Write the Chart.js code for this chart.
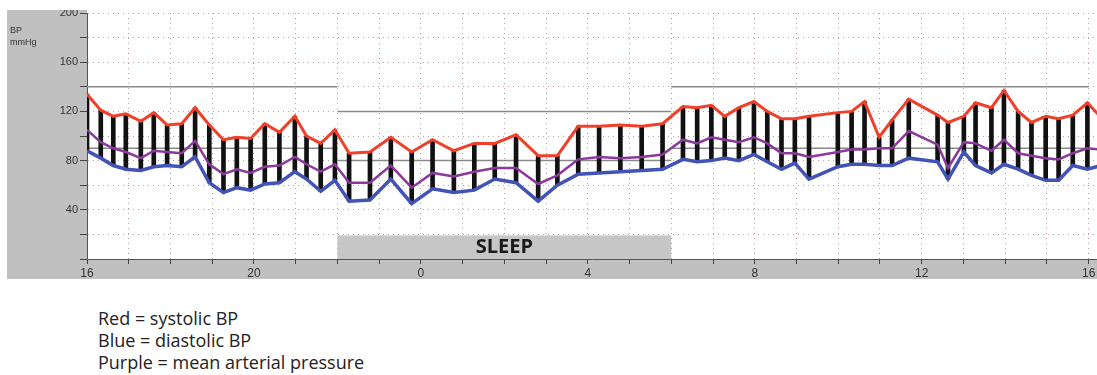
<!DOCTYPE html>
<html lang="en">
  <head>
    <title>24h ambulatory BP</title>
    <style>
      body { margin: 0; background: #fff; }
      .chart-box { position: relative; width: 1097px; height: 280px; }
      .caption {
        margin-top: 27px;
        padding-left: 98px;
        font-family: "Open Sans", sans-serif;
        font-size: 18px;
        line-height: 22px;
        color: #222;
      }
    </style>
  </head>
  <body>
    <div class="chart-box"><canvas id="bpCanvas"></canvas></div>
    <div class="caption">
      <div>Red = systolic BP</div>
      <div>Blue = diastolic BP</div>
      <div>Purple = mean arterial pressure</div>
    </div>
    <script src="https://cdn.jsdelivr.net/npm/chart.js"></script>
    <script>
      // reading times, hours from midnight of day 1 (16 = 4pm, 40 = 4pm next day)
      let times = [16.00, 16.33, 16.63, 16.93, 17.29, 17.60, 17.92, 18.27, 18.59, 18.93,
                   19.27, 19.59, 19.92, 20.26, 20.61, 20.98, 21.26, 21.60, 21.94, 22.28,
                   22.78, 23.28, 23.78, 24.28, 24.79, 25.28, 25.77, 26.28, 26.81, 27.27,
                   27.77, 28.27, 28.78, 29.29, 29.79, 30.28, 30.62, 30.96, 31.28, 31.62,
                   31.98, 32.30, 32.64, 32.96, 33.30, 33.99, 34.32, 34.63, 34.98, 35.29,
                   35.69, 36.38, 36.63, 37.01, 37.29, 37.67, 37.97, 38.31, 38.63, 38.97,
                   39.28, 39.62, 39.97, 40.30];
      let systolic = [134, 121, 116, 118, 112, 119, 109, 110, 123, 109,
                      97, 99, 98, 110, 103, 116, 100, 94, 105, 86,
                      87, 99, 87, 97, 88, 94, 94, 101, 84, 84,
                      108, 108, 109, 108, 110, 124, 123, 125, 116, 123,
                      128, 120, 114, 114, 116, 119, 120, 128, 99, 113,
                      130, 117, 111, 116, 127, 123, 137, 120, 111, 116,
                      114, 117, 127, 115];
      let diastolic = [88, 82, 76, 73, 72, 75, 76, 75, 83, 62,
                       54, 58, 56, 61, 62, 71, 65, 55, 64, 47,
                       48, 65, 45, 57, 54, 56, 65, 62, 47, 60,
                       69, 70, 71, 72, 73, 81, 79, 80, 82, 80,
                       85, 79, 73, 78, 65, 75, 77, 77, 76, 76,
                       82, 79, 65, 87, 76, 70, 77, 73, 68, 64,
                       64, 76, 73, 76];
      let meanArterial = [105, 95, 90, 87, 82, 88, 87, 86, 96, 77,
                          69, 73, 70, 75, 76, 83, 77, 71, 77, 62,
                          62, 76, 58, 70, 67, 71, 74, 74, 61, 68,
                          81, 83, 82, 83, 85, 97, 94, 99, 97, 95,
                          99, 94, 86, 86, 83, 87, 89, 89, 90, 90,
                          104, 93, 74, 95, 94, 88, 97, 86, 84, 82,
                          81, 86, 90, 89];

      // day / night limits and sleep period
      let limitTimes = [16, 22, 30, 40];
      let sysLimits = [140, 120, 140];
      let diaLimits = [90, 80, 90];
      let sleepStart = 22;
      let sleepEnd = 30;
      let sleepTop = 20;

      let points = function (vals) {
        return times.map((t, i) => ({ x: t, y: vals[i] }));
      };
      let limitSegments = function (vals) {
        let out = [];
        for (let i = 0; i < vals.length; i++) {
          if (i > 0) out.push({ x: limitTimes[i], y: null });
          out.push({ x: limitTimes[i], y: vals[i] });
          out.push({ x: limitTimes[i + 1], y: vals[i] });
        }
        return out;
      };

      let panelPlugin = {
        id: "panels",
        beforeDraw(chart) {
          let ctx = chart.ctx;
          let a = chart.chartArea;
          ctx.save();
          ctx.fillStyle = "#c0c0c0";
          ctx.fillRect(7, 10, a.left - 7, 279 - 10);
          ctx.fillRect(7, a.bottom, chart.width - 7, 279 - a.bottom);
          ctx.restore();
        },
        beforeDatasetsDraw(chart) {
          let ctx = chart.ctx;
          let xs = chart.scales.x;
          let ys = chart.scales.y;
          let x1 = xs.getPixelForValue(sleepStart);
          let x2 = xs.getPixelForValue(sleepEnd);
          let y1 = ys.getPixelForValue(sleepTop);
          let y2 = ys.getPixelForValue(0);
          ctx.save();
          ctx.fillStyle = "#c6c6c6";
          ctx.fillRect(x1, y1 + 1, x2 - x1, y2 - y1 - 1);
          ctx.fillStyle = "#1a1a1a";
          ctx.font = "bold 20px 'Open Sans'";
          ctx.textAlign = "center";
          ctx.textBaseline = "middle";
          ctx.fillText("SLEEP", (x1 + x2) / 2, (y1 + y2) / 2 + 1);
          ctx.restore();
        },
        afterDraw(chart) {
          let ctx = chart.ctx;
          ctx.save();
          ctx.fillStyle = "#fff";
          ctx.fillRect(0, 0, chart.chartArea.left, 10);
          ctx.fillStyle = "#333";
          ctx.font = "9px 'Liberation Sans'";
          ctx.fillText("BP", 10, 33);
          ctx.fillText("mmHg", 10, 45);
          ctx.restore();
        },
      };

      new Chart(document.getElementById("bpCanvas"), {
        type: "line",
        data: {
          datasets: [
            {
              type: "bar",
              data: times.map((t, i) => ({ x: t, y: [diastolic[i], systolic[i]] })),
              backgroundColor: "#111",
              borderWidth: 0,
              barThickness: 4,
              order: 5,
            },
            {
              data: points(systolic),
              borderColor: "#f0402a",
              borderWidth: 3,
              pointRadius: 0,
              order: 1,
            },
            {
              data: points(meanArterial),
              borderColor: "#8b3a9c",
              borderWidth: 2.5,
              pointRadius: 0,
              order: 2,
            },
            {
              data: points(diastolic),
              borderColor: "#4253b8",
              borderWidth: 3.5,
              pointRadius: 0,
              order: 3,
            },
            {
              data: limitSegments(sysLimits),
              borderColor: "#8a8a8a",
              borderWidth: 1.5,
              pointRadius: 0,
              spanGaps: false,
              order: 6,
            },
            {
              data: limitSegments(diaLimits),
              borderColor: "#8a8a8a",
              borderWidth: 1.5,
              pointRadius: 0,
              spanGaps: false,
              order: 6,
            },
          ],
        },
        options: {
          responsive: true,
          maintainAspectRatio: false,
          animation: false,
          layout: { padding: { top: 13, left: 0, right: 0, bottom: 0 } },
          plugins: { legend: { display: false }, tooltip: { enabled: false } },
          scales: {
            x: {
              type: "linear",
              min: 16,
              max: 40.2,
              offset: false,
              bounds: "data",
              grid: {
                offset: false,
                color: "#bca0a0",
                tickColor: "#444",
                tickLength: 5,
                tickBorderDash: [],
              },
              border: { display: true, color: "#555", width: 1, dash: [1, 4] },
              ticks: {
                stepSize: 1,
                autoSkip: false,
                includeBounds: false,
                maxRotation: 0,
                padding: 2,
                color: "#333",
                font: { family: "'Liberation Sans'", size: 12 },
                callback: (v) => (v % 4 === 0 ? String(v % 24) : ""),
              },
              afterFit: (s) => {
                s.height = 21;
                s.paddingLeft = 0;
                s.paddingRight = 0;
              },
            },
            y: {
              min: 0,
              max: 200,
              grid: {
                color: "#bca0a0",
                tickColor: "#444",
                tickLength: 7,
                tickBorderDash: [],
              },
              border: { display: true, color: "#555", width: 1, dash: [1, 4] },
              ticks: {
                stepSize: 20,
                autoSkip: false,
                padding: 2,
                color: "#333",
                font: { family: "'Liberation Sans'", size: 11 },
                callback: (v) => (v % 40 === 0 && v > 0 ? String(v) : ""),
              },
              afterFit: (s) => {
                s.width = 87;
                s.paddingTop = 0;
                s.paddingBottom = 0;
              },
            },
          },
        },
        plugins: [panelPlugin],
      });
    </script>
  </body>
</html>
